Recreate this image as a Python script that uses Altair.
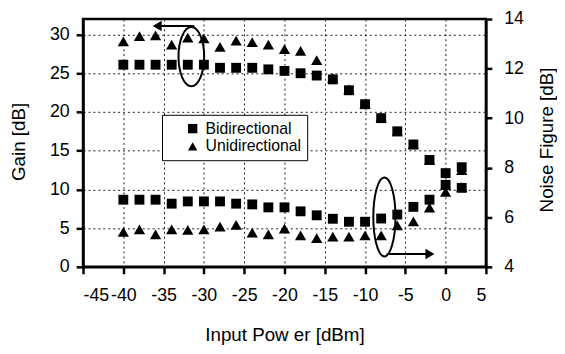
import altair as alt
import pandas as pd

# ---- data ----
input_power = [-40, -38, -36, -34, -32, -30, -28, -26, -24, -22, -20,
               -18, -16, -14, -12, -10, -8, -6, -4, -2, 0, 2]
bi_gain = [26.1, 26.1, 26.1, 26.1, 26.1, 26.1, 25.7, 25.7, 25.7, 25.5, 25.3,
           25.0, 24.7, 24.2, 22.8, 21.0, 19.2, 17.5, 15.8, 13.8, 12.1, 10.2]
uni_gain = [29.1, 29.8, 29.9, 28.7, 29.6, 29.5, 28.4, 29.2, 29.0, 28.7, 28.1,
            27.9, 26.7, 24.4, 22.9, 21.0, 19.3, 17.5, 15.8, 13.8, 10.6, 10.3]
bi_nf = [6.71, 6.71, 6.71, 6.55, 6.64, 6.64, 6.64, 6.55, 6.52, 6.40, 6.40,
         6.24, 6.08, 5.94, 5.82, 5.82, 5.95, 6.11, 6.42, 6.71, 7.31, 8.02]
uni_nf = [5.41, 5.51, 5.31, 5.51, 5.49, 5.51, 5.62, 5.69, 5.38, 5.31, 5.54,
          5.27, 5.16, 5.22, 5.22, 5.27, 5.27, 5.67, 5.83, 6.39, 7.03, 7.90]
series_names = ["Bidirectional", "Unidirectional"]

x_ticks = [-45, -40, -35, -30, -25, -20, -15, -10, -5, 0, 5]
gain_ticks = [0, 5, 10, 15, 20, 25, 30]
nf_ticks = [4, 6, 8, 10, 12, 14]

# annotation anchors (data coordinates on the gain axis)
ellipse1_center = [-31.56, 27.15]
ellipse2_center = [-7.6, 6.45]
arrow1 = [-35.6, -31.2, 31.1]   # x start, x end, gain
arrow2 = [-7.3, -1.9, 1.66]
arrowhead1 = [-35.8, 31.1]
arrowhead2 = [-1.95, 1.66]

n = len(input_power)
gain_df = pd.DataFrame({
    "power": input_power * 2,
    "value": bi_gain + uni_gain,
    "series": [series_names[0]] * n + [series_names[1]] * n,
})
nf_df = pd.DataFrame({
    "power": input_power * 2,
    "value": bi_nf + uni_nf,
    "series": [series_names[0]] * n + [series_names[1]] * n,
})

FONT = "Liberation Sans"
W, H = 408, 251
GRID = dict(grid=True, gridDash=[2, 3], gridColor="black", gridWidth=1, gridOpacity=0.9)

x_enc = alt.X("power:Q", scale=alt.Scale(domain=[-45, 5], nice=False, zero=False),
              axis=alt.Axis(values=x_ticks, labelExpr="'' + datum.value",
                            title="Input Pow er [dBm]", tickSize=7, labelPadding=13,
                            titleX=W / 2, titleY=69, titleBaseline="middle", **GRID))
y_gain = alt.Y("value:Q", scale=alt.Scale(domain=[0, 32], nice=False, zero=False),
               axis=alt.Axis(values=gain_ticks, orient="left", title="Gain [dB]",
                             labelExpr="'' + datum.value",
                             tickSize=7, labelPadding=7, titleX=-65, titleY=124,
                             titleAngle=270, titleBaseline="middle", **GRID))
y_nf = alt.Y("value:Q", scale=alt.Scale(domain=[4, 14], nice=False, zero=False),
             axis=alt.Axis(values=nf_ticks, orient="right", title="Noise Figure [dB]",
                           grid=False, tickSize=6, labelPadding=12, titleX=61, titleY=122,
                           titleAngle=270, titleBaseline="middle"))

NBSP = "\u00a0"
legend = alt.Legend(title=None, orient="none", legendX=80, legendY=97, padding=6,
                    symbolOffset=17, labelOffset=5, rowPadding=2,
                    labelFont=FONT, labelFontSize=16, labelColor="black",
                    symbolSize=90, symbolFillColor="black", symbolStrokeColor="black",
                    symbolStrokeWidth=0, fillColor="white", strokeColor="black",
                    labelExpr="datum.label + '" + NBSP * 4 + "'")
shape_enc = alt.Shape("series:N", scale=alt.Scale(domain=series_names,
                                                  range=["square", "triangle-up"]),
                      legend=legend)


def series_points(df, y_enc, name, size):
    return alt.Chart(df).transform_filter(alt.datum.series == name).mark_point(
        filled=True, color="black", opacity=1, size=size).encode(
        x=x_enc, y=y_enc, shape=shape_enc)


gain_sq = series_points(gain_df, y_gain, series_names[0], 100)
gain_tr = series_points(gain_df, y_gain, series_names[1], 130)
nf_sq = series_points(nf_df, y_nf, series_names[0], 100)
nf_tr = series_points(nf_df, y_nf, series_names[1], 130)

ell1 = alt.Chart(pd.DataFrame({"power": [ellipse1_center[0]], "value": [ellipse1_center[1]]})).mark_point(
    shape="M0,-1A0.433,1 0 1,1 0,1A0.433,1 0 1,1 0,-1Z", size=3600, filled=False,
    color="black", strokeWidth=2, opacity=1).encode(x=x_enc, y=y_gain)
ell2 = alt.Chart(pd.DataFrame({"power": [ellipse2_center[0]], "value": [ellipse2_center[1]]})).mark_point(
    shape="M0,-1A0.28,1 0 1,1 0,1A0.28,1 0 1,1 0,-1Z", size=6400, filled=False,
    color="black", strokeWidth=2, opacity=1).encode(x=x_enc, y=y_gain)

arrows_df = pd.DataFrame({"power": [arrow1[0], arrow2[0]], "power2": [arrow1[1], arrow2[1]],
                          "value": [arrow1[2], arrow2[2]]})
arrow_lines = alt.Chart(arrows_df).mark_rule(color="black", strokeWidth=2).encode(
    x=x_enc, x2="power2:Q", y=y_gain)
head1 = alt.Chart(pd.DataFrame({"power": [arrowhead1[0]], "value": [arrowhead1[1]]})).mark_point(
    shape="triangle-left", filled=True, size=110, color="black", opacity=1).encode(x=x_enc, y=y_gain)
head2 = alt.Chart(pd.DataFrame({"power": [arrowhead2[0]], "value": [arrowhead2[1]]})).mark_point(
    shape="triangle-right", filled=True, size=110, color="black", opacity=1).encode(x=x_enc, y=y_gain)

left = alt.layer(gain_sq, gain_tr, ell1, ell2, arrow_lines, head1, head2)
right = alt.layer(nf_sq, nf_tr)
chart = alt.layer(left, right).resolve_scale(y="independent").properties(
    width=W, height=H,
    autosize=alt.AutoSizeParams(type="none"),
    padding={"left": 76, "top": 9, "right": 72, "bottom": 78},
).configure_view(stroke="black", strokeWidth=2.5).configure_axis(
    labelFont=FONT, labelFontSize=18, titleFont=FONT, titleFontSize=19,
    titleFontWeight="normal", labelColor="black", titleColor="black",
    domainColor="black", domainWidth=2.5, tickColor="black", tickWidth=2.5,
)

chart.save("out.html", embed_options={"renderer": "svg", "actions": False})
